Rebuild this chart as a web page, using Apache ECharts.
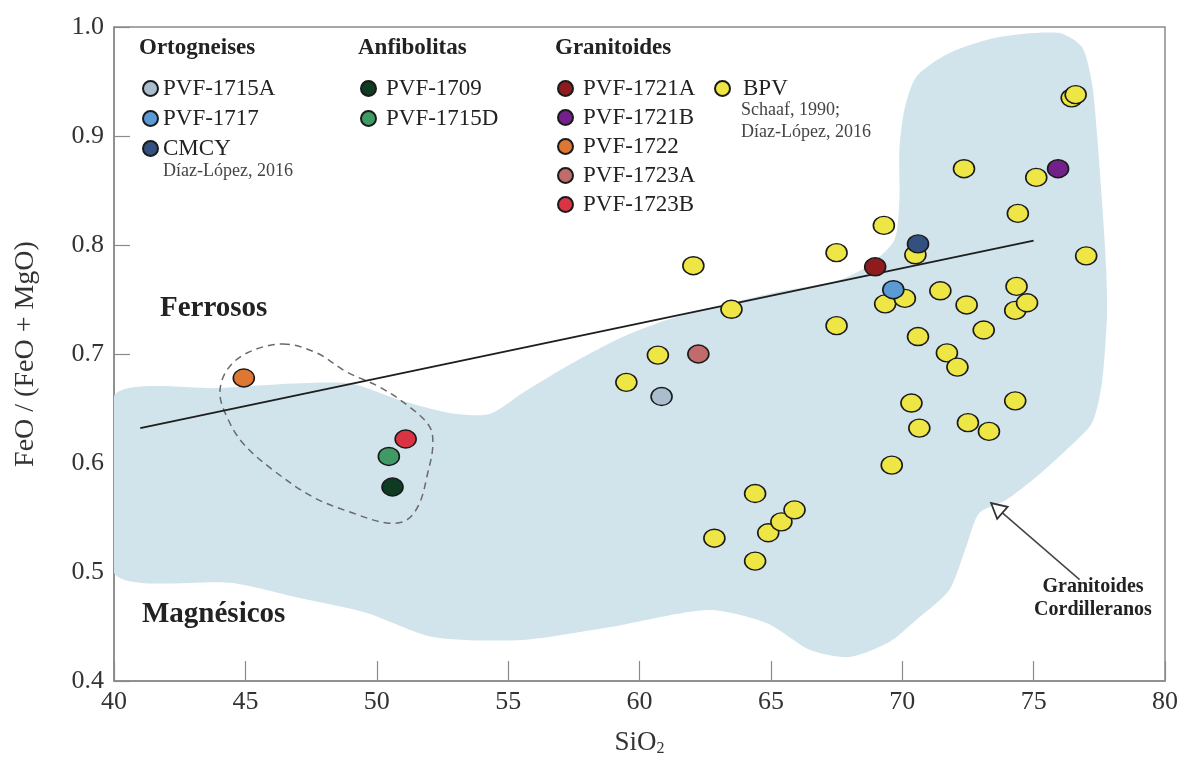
<!DOCTYPE html>
<html><head><meta charset="utf-8">
<script src="https://cdn.jsdelivr.net/npm/echarts@6/dist/echarts.min.js"></script>
<style>html,body{margin:0;padding:0;background:#fff}#c{width:1192px;height:763px}</style>
</head><body><div id="c"></div>
<script>
// ---------- data ----------
const xTicks = [40, 45, 50, 55, 60, 65, 70, 75, 80];
const yTicks = [0.4, 0.5, 0.6, 0.7, 0.8, 0.9, 1.0];

const sampleNames  = ['PVF-1715A', 'PVF-1717', 'CMCY', 'PVF-1709', 'PVF-1715D',
                      'PVF-1721A', 'PVF-1721B', 'PVF-1722', 'PVF-1723A', 'PVF-1723B'];
const sampleSiO2   = [60.84, 69.66, 70.6, 50.6, 50.46, 68.97, 75.93, 44.94, 62.24, 51.1];
const sampleFeRatio= [0.661, 0.759, 0.801, 0.578, 0.606, 0.780, 0.870, 0.678, 0.700, 0.622];

const bpvSiO2 = [59.5, 60.7, 62.05, 63.5, 62.85, 64.4, 64.4, 64.9, 65.4, 65.9,
                 67.5, 67.5, 69.3, 69.35, 70.1, 70.5, 70.6, 70.35, 70.65, 69.6,
                 71.45, 71.7, 72.1, 72.45, 73.1, 72.5, 73.3, 74.3, 74.3, 74.35,
                 74.75, 74.4, 72.35, 75.1, 76.45, 76.6, 77.0];
const bpvFe   = [0.674, 0.699, 0.781, 0.741, 0.531, 0.572, 0.510, 0.536, 0.546, 0.557,
                 0.793, 0.726, 0.818, 0.746, 0.751, 0.791, 0.716, 0.655, 0.632, 0.598,
                 0.758, 0.701, 0.688, 0.745, 0.722, 0.637, 0.629, 0.657, 0.740, 0.762,
                 0.747, 0.829, 0.870, 0.862, 0.935, 0.938, 0.790];

const trendSiO2 = [41.0, 75.0];
const trendFe   = [0.632, 0.804];

// Granitoides Cordilleranos field outline
const regionSiO2 = [40, 44.03, 48.86, 50.87, 52.78, 54.30, 55.55, 57.45, 59.35, 61.03,
  63.16, 65.06, 67.60, 68.75, 69.70, 69.89, 69.89, 70.08, 70.53, 71.79,
  73.69, 75.97, 76.84, 77.22, 77.41, 77.60, 77.76, 77.79, 77.60, 77.22,
  76.24, 75.10, 73.95, 72.93, 72.43, 71.79, 70.53, 69.51, 67.98, 66.50,
  64.83, 62.62, 58.90, 55.51, 52.13, 49.62, 47.07, 44.52, 40];
const regionFe = [0.6615, 0.6688, 0.6734, 0.6578, 0.6459, 0.6450, 0.6642, 0.6917, 0.7156, 0.7312,
  0.7450, 0.7560, 0.7679, 0.7817, 0.8046, 0.8413, 0.8872, 0.9239, 0.9541, 0.9761,
  0.9908, 0.9945, 0.9817, 0.9486, 0.9028, 0.8413, 0.7798, 0.7339, 0.6734, 0.6367,
  0.6119, 0.5872, 0.5661, 0.5541, 0.5229, 0.4835, 0.4560, 0.4358, 0.4220, 0.4284,
  0.4532, 0.4651, 0.4495, 0.4376, 0.4404, 0.4624, 0.4761, 0.4899, 0.4991];

// dashed outline around the mafic samples
const fieldSiO2 = [46.43, 47.72, 48.86, 50.11, 51.25, 52.02, 52.13, 51.94, 51.63, 51.14,
  50.38, 49.09, 47.57, 46.05, 44.90, 44.30, 44.03, 44.30, 45.06];
const fieldFe = [0.7092, 0.7009, 0.6835, 0.6697, 0.6514, 0.6330, 0.6147, 0.5908, 0.5633, 0.5477,
  0.5450, 0.5541, 0.5688, 0.5936, 0.6183, 0.6422, 0.6642, 0.6853, 0.7009];

// arrow: tip and tail
const arrowSiO2 = [73.38, 76.75];
const arrowFe   = [0.5633, 0.4930];

// ---------- styles ----------
const sampleColors = ['#aabdce', '#5b9bd5', '#34507f', '#0f3b22', '#3f9a65',
                      '#8e1b1d', '#72208a', '#dd7733', '#c06c6c', '#da3444'];
const bpvColor = '#ede645';
const FONT = '"Liberation Serif", "DejaVu Serif", serif';

const pts = (xs, ys) => xs.map((v, i) => [v, ys[i]]);

const series = [];

series.push({
  type: 'custom', name: 'field', silent: true, z: 1, clip: true,
  data: [0],
  renderItem: (params, api) => {
    const p = regionSiO2.map((v, i) => api.coord([v, regionFe[i]]));
    return { type: 'polygon', shape: { points: p, smooth: 0.25 },
             style: { fill: '#d2e4eb', stroke: null } };
  }
});
series.push({
  type: 'custom', name: 'dashed', silent: true, z: 2,
  data: [0],
  renderItem: (params, api) => {
    const p = fieldSiO2.map((v, i) => api.coord([v, fieldFe[i]]));
    return { type: 'polygon', shape: { points: p, smooth: 0.35 },
             style: { fill: null, stroke: '#6a6a6a', lineWidth: 1.5, lineDash: [7, 5] } };
  }
});
series.push({
  type: 'line', name: 'trend', silent: true, z: 3, symbol: 'none',
  data: pts(trendSiO2, trendFe),
  lineStyle: { color: '#1e1e1e', width: 2 }
});
series.push({
  type: 'custom', name: 'arrow', silent: true, z: 3,
  data: [0],
  renderItem: (params, api) => {
    const tip = api.coord([arrowSiO2[0], arrowFe[0]]);
    const tail = api.coord([arrowSiO2[1], arrowFe[1]]);
    const dx = tail[0] - tip[0], dy = tail[1] - tip[1];
    const L = Math.sqrt(dx * dx + dy * dy), ux = dx / L, uy = dy / L;
    const h = 15, w = 8;
    const bx = tip[0] + ux * h, by = tip[1] + uy * h;
    return { type: 'group', children: [
      { type: 'line', shape: { x1: bx, y1: by, x2: tail[0], y2: tail[1] },
        style: { stroke: '#444', lineWidth: 1.5 } },
      { type: 'polygon', shape: { points: [tip, [bx - uy * w, by + ux * w], [bx + uy * w, by - ux * w]] },
        style: { fill: '#fff', stroke: '#333', lineWidth: 1.8 } }
    ] };
  }
});

sampleNames.forEach((n, i) => {
  series.push({
    type: 'scatter', name: n, z: 5,
    symbol: 'circle', symbolSize: [21, 18],
    data: [[sampleSiO2[i], sampleFeRatio[i]]],
    itemStyle: { color: sampleColors[i], borderColor: '#1a1a1a', borderWidth: 1.5, opacity: 1 }
  });
});
series.push({
  type: 'scatter', name: 'BPV', z: 4,
  symbol: 'circle', symbolSize: [21, 18],
  data: pts(bpvSiO2, bpvFe),
  itemStyle: { color: bpvColor, borderColor: '#1a1a1a', borderWidth: 1.5, opacity: 1 }
});

const legendText = (pad) => ({ fontFamily: FONT, fontSize: 23, color: '#222', lineHeight: 20, padding: [0, 0, 0, pad] });
const legendBase = {
  orient: 'vertical', icon: 'circle', itemWidth: 15, itemHeight: 15, itemGap: 6,
  selectedMode: false, padding: 0, top: 77
};

const chart = echarts.init(document.getElementById('c'));
chart.setOption({
  backgroundColor: '#fff',
  animation: false,
  grid: { left: 114, right: 27, top: 27, bottom: 82, show: true, borderColor: '#8a8a8a', borderWidth: 1.5, backgroundColor: 'transparent' },
  xAxis: {
    type: 'value', min: 40, max: 80, interval: 5,
    name: '{a|SiO}{b|2}', nameLocation: 'middle', nameGap: 48,
    nameTextStyle: { rich: { a: { fontFamily: FONT, fontSize: 27, color: '#333' },
                             b: { fontFamily: FONT, fontSize: 16, color: '#333', padding: [12, 0, 0, 0] } } },
    axisLine: { show: true, lineStyle: { color: '#8a8a8a', width: 1.5 } },
    axisTick: { show: true, inside: true, length: 20, lineStyle: { color: '#8a8a8a', width: 1.2 } },
    axisLabel: { fontFamily: FONT, fontSize: 26, color: '#333', margin: 8,
                 formatter: v => xTicks.includes(v) ? String(v) : '' },
    splitLine: { show: false }
  },
  yAxis: {
    type: 'value', min: 0.4, max: 1.0, interval: 0.1,
    name: 'FeO / (FeO + MgO)', nameLocation: 'middle', nameGap: 74,
    nameTextStyle: { fontFamily: FONT, fontSize: 28, color: '#333' },
    axisLine: { show: true, lineStyle: { color: '#8a8a8a', width: 1.5 } },
    axisTick: { show: true, inside: true, length: 16, lineStyle: { color: '#8a8a8a', width: 1.2 } },
    axisLabel: { fontFamily: FONT, fontSize: 26, color: '#333', margin: 10,
                 formatter: v => { const t = yTicks.find(k => Math.abs(k - v) < 1e-6); return t === undefined ? '' : t.toFixed(1); } },
    splitLine: { show: false }
  },
  legend: [
    Object.assign({}, legendBase, { left: 142, data: ['PVF-1715A', 'PVF-1717', 'CMCY'], textStyle: legendText(0), itemGap: 7 }),
    Object.assign({}, legendBase, { left: 360, data: ['PVF-1709', 'PVF-1715D'], textStyle: legendText(5), itemGap: 7 }),
    Object.assign({}, legendBase, { left: 557, data: ['PVF-1721A', 'PVF-1721B', 'PVF-1722', 'PVF-1723A', 'PVF-1723B'], textStyle: legendText(5) }),
    Object.assign({}, legendBase, { left: 714, data: ['BPV'], textStyle: legendText(8) })
  ],
  graphic: [
    { type: 'text', x: 139, y: 48, style: { text: 'Ortogneises', font: 'bold 23px ' + FONT, fill: '#222', verticalAlign: 'middle' } },
    { type: 'text', x: 358, y: 48, style: { text: 'Anfibolitas', font: 'bold 23px ' + FONT, fill: '#222', verticalAlign: 'middle' } },
    { type: 'text', x: 555, y: 48, style: { text: 'Granitoides', font: 'bold 23px ' + FONT, fill: '#222', verticalAlign: 'middle' } },
    { type: 'text', x: 163, y: 171, style: { text: 'Díaz-López, 2016', font: '18px ' + FONT, fill: '#444', verticalAlign: 'middle' } },
    { type: 'text', x: 741, y: 110, style: { text: 'Schaaf, 1990;', font: '18px ' + FONT, fill: '#444', verticalAlign: 'middle' } },
    { type: 'text', x: 741, y: 132, style: { text: 'Díaz-López, 2016', font: '18px ' + FONT, fill: '#444', verticalAlign: 'middle' } },
    { type: 'text', x: 160, y: 309, style: { text: 'Ferrosos', font: 'bold 29px ' + FONT, fill: '#222', verticalAlign: 'middle' } },
    { type: 'text', x: 142, y: 615, style: { text: 'Magnésicos', font: 'bold 29px ' + FONT, fill: '#222', verticalAlign: 'middle' } },
    { type: 'text', x: 1093, y: 587, style: { text: 'Granitoides', font: 'bold 20px ' + FONT, fill: '#222', align: 'center', verticalAlign: 'middle' } },
    { type: 'text', x: 1093, y: 610, style: { text: 'Cordilleranos', font: 'bold 20px ' + FONT, fill: '#222', align: 'center', verticalAlign: 'middle' } }
  ],
  series: series
});
</script></body></html>
